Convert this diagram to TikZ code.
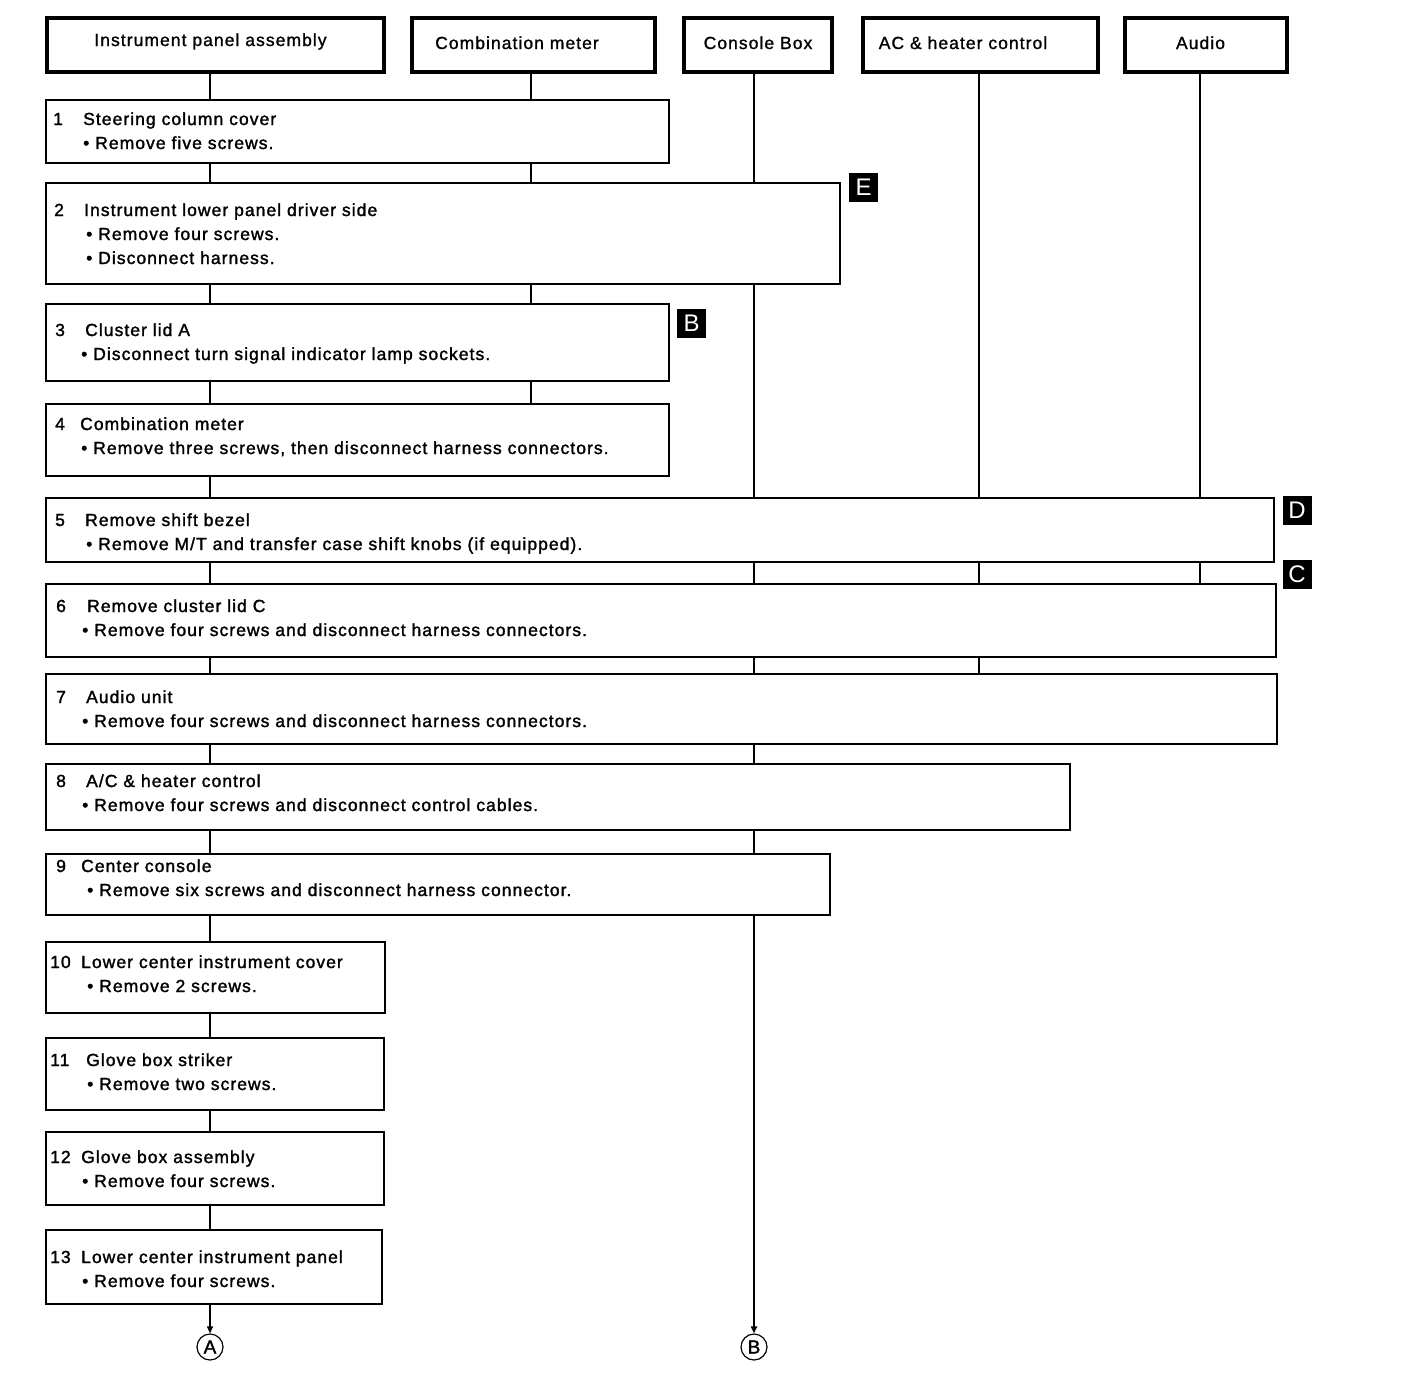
\documentclass[tikz,border=0pt]{standalone}
\usepackage{fontspec}
\setmainfont{Liberation Sans}
\newfontfamily\stepfont{Liberation Sans}[LetterSpace=6,FakeBold=1.6]
\newfontfamily\titlefont{Liberation Sans}[LetterSpace=6,FakeBold=1.2]
\newfontfamily\tagfont{Liberation Sans}
\usetikzlibrary{arrows.meta}
\tikzset{
  topbox/.style={draw, line width=3.5pt, inner sep=0pt, anchor=north west},
  stepbox/.style={draw, line width=2.2pt, inner sep=0pt, anchor=north west},
  txt/.style={anchor=base west, inner sep=0pt, font=\stepfont\fontsize{17.5}{20}\selectfont},
  ttl/.style={anchor=base, inner sep=0pt, font=\titlefont\fontsize{17.5}{20}\selectfont},
  tagbox/.style={fill=black, text=white, minimum size=29pt, inner sep=0pt, font=\tagfont\fontsize{24}{24}\selectfont},
  thinconn/.style={line width=1.2pt},
  thickconn/.style={line width=2pt},
  endcirc/.style={draw, circle, minimum size=26pt, inner sep=0pt, line width=1.2pt, font=\stepfont\fontsize{19}{19}\selectfont},
  tip/.style={-{Triangle[length=7pt,width=6pt]}}
}
\begin{document}
\begin{tikzpicture}[x=1pt,y=-1pt]
\useasboundingbox (0,0) rectangle (1408,1390);
% columns
\coordinate (c1) at (210,0);
\coordinate (c2) at (531,0);
\coordinate (c3) at (754,0);
\coordinate (c4) at (979,0);
\coordinate (c5) at (1200,0);
% top boxes
\node[topbox, minimum width=337, minimum height=54] (t1) at (45,16) {};
\node[topbox, minimum width=243, minimum height=54] (t2) at (410,16) {};
\node[topbox, minimum width=148, minimum height=54] (t3) at (682,16) {};
\node[topbox, minimum width=235, minimum height=54] (t4) at (861,16) {};
\node[topbox, minimum width=162, minimum height=54] (t5) at (1123,16) {};
\node[ttl] (tt1) at (210.5,46) {Instrument panel assembly};
\node[ttl] (tt2) at (517,49) {Combination meter};
\node[ttl] (tt3) at (758,49) {Console Box};
\node[ttl] (tt4) at (963,49) {AC \& heater control};
\node[ttl] (tt5) at (1200.5,49) {Audio};
% step boxes
\node[stepbox, minimum width=623, minimum height=63] (s1) at (45,99) {};
\node[stepbox, minimum width=794, minimum height=101] (s2) at (45,182) {};
\node[stepbox, minimum width=623, minimum height=77] (s3) at (45,303) {};
\node[stepbox, minimum width=623, minimum height=72] (s4) at (45,403) {};
\node[stepbox, minimum width=1228, minimum height=64] (s5) at (45,497) {};
\node[stepbox, minimum width=1230, minimum height=73] (s6) at (45,583) {};
\node[stepbox, minimum width=1231, minimum height=70] (s7) at (45,673) {};
\node[stepbox, minimum width=1024, minimum height=66] (s8) at (45,763) {};
\node[stepbox, minimum width=784, minimum height=61] (s9) at (45,853) {};
\node[stepbox, minimum width=339, minimum height=71] (s10) at (45,941) {};
\node[stepbox, minimum width=338, minimum height=72] (s11) at (45,1037) {};
\node[stepbox, minimum width=338, minimum height=73] (s12) at (45,1131) {};
\node[stepbox, minimum width=336, minimum height=74] (s13) at (45,1229) {};
% step texts
\node[txt] (n1) at (53,125) {1};
\node[txt] (a1) at (83,125) {Steering column cover};
\node[txt] (b1) at (83,149) {• Remove five screws.};
\node[txt] (n2) at (54,216) {2};
\node[txt] (a2) at (84,216) {Instrument lower panel driver side};
\node[txt] (b2) at (86,240) {• Remove four screws.};
\node[txt] (d2) at (86,264) {• Disconnect harness.};
\node[txt] (n3) at (55,336) {3};
\node[txt] (a3) at (85,336) {Cluster lid A};
\node[txt] (b3) at (81,360) {• Disconnect turn signal indicator lamp sockets.};
\node[txt] (n4) at (55,430) {4};
\node[txt] (a4) at (80,430) {Combination meter};
\node[txt] (b4) at (81,454) {• Remove three screws, then disconnect harness connectors.};
\node[txt] (n5) at (55,526) {5};
\node[txt] (a5) at (85,526) {Remove shift bezel};
\node[txt] (b5) at (86,550) {• Remove M/T and transfer case shift knobs (if equipped).};
\node[txt] (n6) at (56,612) {6};
\node[txt] (a6) at (87,612) {Remove cluster lid C};
\node[txt] (b6) at (82,636) {• Remove four screws and disconnect harness connectors.};
\node[txt] (n7) at (56,703) {7};
\node[txt] (a7) at (86,703) {Audio unit};
\node[txt] (b7) at (82,727) {• Remove four screws and disconnect harness connectors.};
\node[txt] (n8) at (56,787) {8};
\node[txt] (a8) at (86,787) {A/C \& heater control};
\node[txt] (b8) at (82,811) {• Remove four screws and disconnect control cables.};
\node[txt] (n9) at (56,872) {9};
\node[txt] (a9) at (81,872) {Center console};
\node[txt] (b9) at (87,896) {• Remove six screws and disconnect harness connector.};
\node[txt] (n10) at (50,968) {10};
\node[txt] (a10) at (81,968) {Lower center instrument cover};
\node[txt] (b10) at (87,992) {• Remove 2 screws.};
\node[txt] (n11) at (50,1066) {11};
\node[txt] (a11) at (86,1066) {Glove box striker};
\node[txt] (b11) at (87,1090) {• Remove two screws.};
\node[txt] (n12) at (50,1163) {12};
\node[txt] (a12) at (81,1163) {Glove box assembly};
\node[txt] (b12) at (82,1187) {• Remove four screws.};
\node[txt] (n13) at (50,1263) {13};
\node[txt] (a13) at (81,1263) {Lower center instrument panel};
\node[txt] (b13) at (82,1287) {• Remove four screws.};
% tags
\node[tagbox] (tagE) at (863.5,187.5) {E};
\node[tagbox] (tagB) at (691.5,323.5) {B};
\node[tagbox] (tagD) at (1297,510.5) {D};
\node[tagbox] (tagC) at (1297,574.5) {C};
% end circles
\node[endcirc] (endA) at (210,1347) {A};
\node[endcirc] (endB) at (754,1347) {B};
% column 1
\draw[thinconn] (t1.south -| c1) -- (s1.north -| c1);
\draw[thinconn] (s1.south -| c1) -- (s2.north -| c1);
\draw[thinconn] (s2.south -| c1) -- (s3.north -| c1);
\draw[thinconn] (s3.south -| c1) -- (s4.north -| c1);
\draw[thinconn] (s4.south -| c1) -- (s5.north -| c1);
\draw[thinconn] (s5.south -| c1) -- (s6.north -| c1);
\draw[thinconn] (s6.south -| c1) -- (s7.north -| c1);
\draw[thinconn] (s7.south -| c1) -- (s8.north -| c1);
\draw[thinconn] (s8.south -| c1) -- (s9.north -| c1);
\draw[thinconn] (s9.south -| c1) -- (s10.north -| c1);
\draw[thinconn] (s10.south -| c1) -- (s11.north -| c1);
\draw[thinconn] (s11.south -| c1) -- (s12.north -| c1);
\draw[thinconn] (s12.south -| c1) -- (s13.north -| c1);
\draw[thinconn, tip] (s13.south -| c1) -- (endA.north);
% column 2
\draw[thinconn] (t2.south -| c2) -- (s1.north -| c2);
\draw[thinconn] (s1.south -| c2) -- (s2.north -| c2);
\draw[thinconn] (s2.south -| c2) -- (s3.north -| c2);
\draw[thinconn] (s3.south -| c2) -- (s4.north -| c2);
% column 3
\draw[thickconn] (t3.south -| c3) -- (s2.north -| c3);
\draw[thickconn] (s2.south -| c3) -- (s5.north -| c3);
\draw[thickconn] (s5.south -| c3) -- (s6.north -| c3);
\draw[thickconn] (s6.south -| c3) -- (s7.north -| c3);
\draw[thickconn] (s7.south -| c3) -- (s8.north -| c3);
\draw[thickconn] (s8.south -| c3) -- (s9.north -| c3);
\draw[thickconn, tip] (s9.south -| c3) -- (endB.north);
% column 4
\draw[thickconn] (t4.south -| c4) -- (s5.north -| c4);
\draw[thickconn] (s5.south -| c4) -- (s6.north -| c4);
\draw[thickconn] (s6.south -| c4) -- (s7.north -| c4);
% column 5
\draw[thickconn] (t5.south -| c5) -- (s5.north -| c5);
\draw[thickconn] (s5.south -| c5) -- (s6.north -| c5);
\end{tikzpicture}
\end{document}
